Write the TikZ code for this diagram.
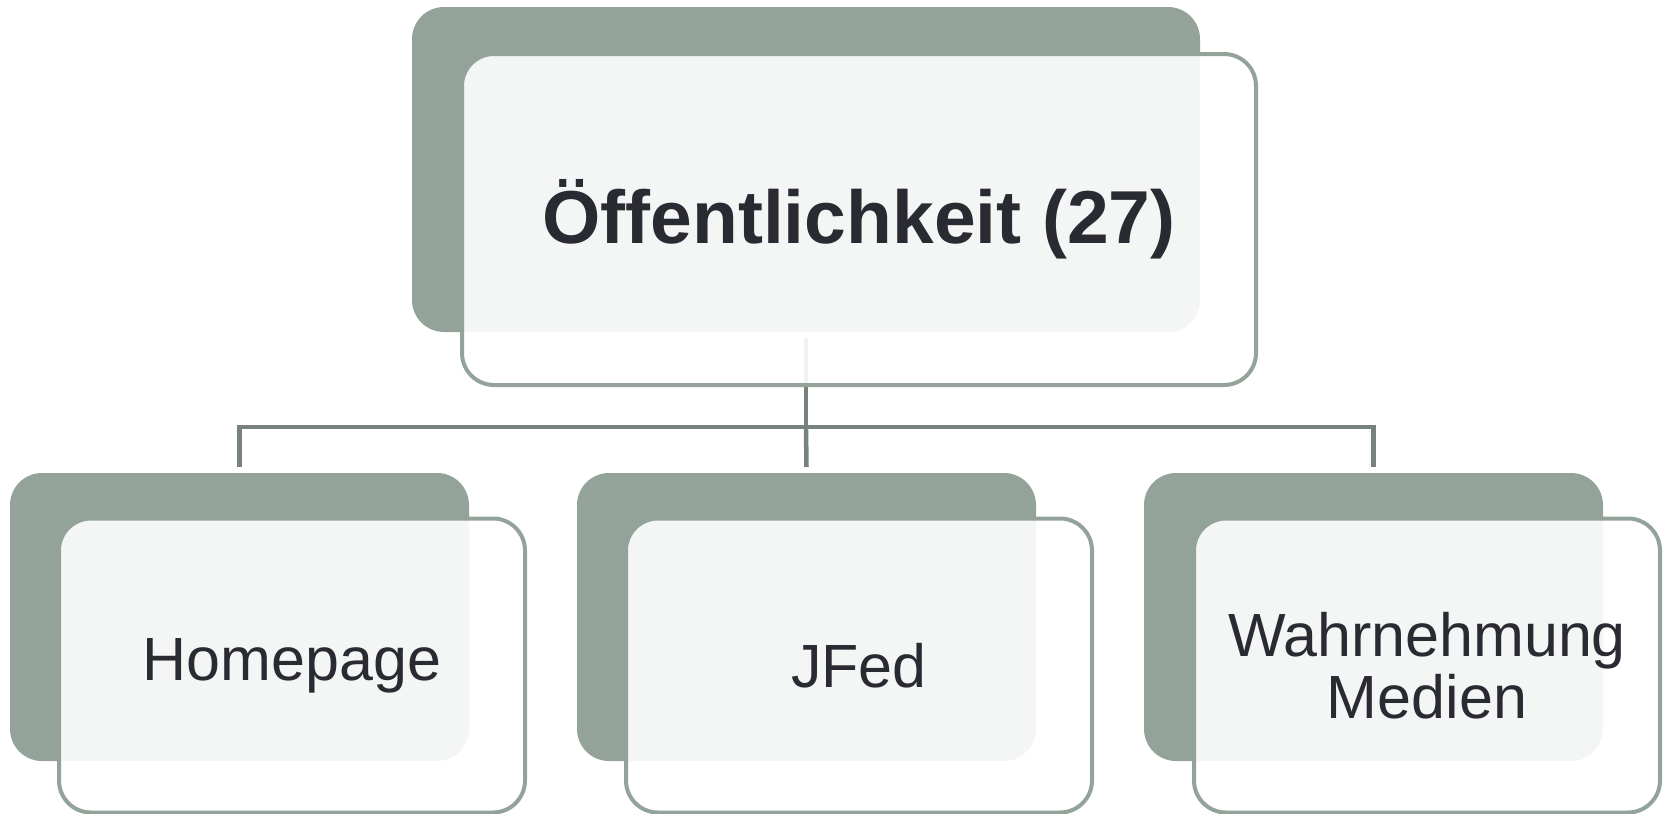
\documentclass[tikz,border=0pt]{standalone}
\usepackage{fontspec}
\setmainfont{Liberation Sans}
\definecolor{boxgray}{HTML}{94A39A}
\definecolor{linegray}{HTML}{78827C}
\definecolor{txt}{HTML}{2A2A32}
\begin{document}
\begin{tikzpicture}[x=1pt,y=-1pt,
  backbox/.style={fill=boxgray, rounded corners=32pt, inner sep=0pt, outer sep=0pt},
  frontbox/.style={draw=boxgray, line width=4pt, fill=white, fill opacity=0.9, text opacity=1,
    draw opacity=1, rounded corners=32pt, inner sep=0pt, outer sep=0pt, text=txt, align=center},
  topsize/.style={minimum width=794pt, minimum height=331pt},
  botback/.style={backbox, minimum width=459pt, minimum height=288pt},
  botfront/.style={frontbox, minimum width=466pt, minimum height=294pt, font=\fontsize{61}{62}\selectfont},
  conn/.style={draw=linegray, line width=4.5pt, line join=miter}]
\useasboundingbox (0,0) rectangle (1663,814);
% back boxes
\node[backbox, minimum width=788pt, minimum height=325pt] (topback) at (806,169.5) {};
\node[botback] (b1back) at (239.5,617) {};
\node[botback] (b2back) at (806.5,617) {};
\node[botback] (b3back) at (1373.5,617) {};
% connectors
\coordinate (bar) at (806,427);
\draw[conn] ([yshift=-6pt]topback.south) -- (bar);
\draw[conn] ([yshift=6pt]b1back.north) |- (bar) -| ([yshift=6pt]b3back.north);
\draw[conn] (bar) -- ([yshift=6pt]b2back.north);
% front boxes
\node[frontbox, topsize, font=\bfseries\fontsize{75}{78}\selectfont] (topfront) at (859,219.5) {Öffentlichkeit (27)};
\node[botfront] (b1front) at (292,665.5) {Homepage};
\node[botfront] (b2front) at (859,665.5) {JFed};
\node[botfront] (b3front) at (1427,665.5) {Wahrnehmung\\Medien};
\end{tikzpicture}
\end{document}
